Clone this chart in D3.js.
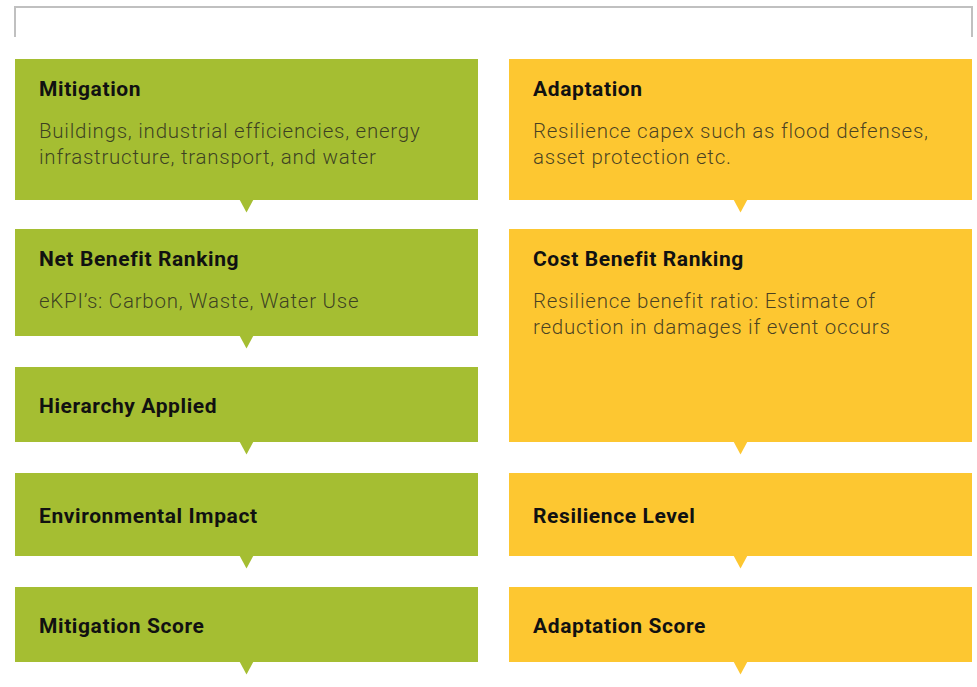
<!DOCTYPE html>
<html>
<head>
<meta charset="utf-8">
<script src="https://cdn.jsdelivr.net/npm/d3@7"></script>
<style>
  html, body { margin: 0; padding: 0; background: #ffffff; }
  svg { display: block; }
</style>
</head>
<body>
<svg id="chart" width="977" height="687"></svg>
<script>
// ---- Data ----
const columns = ["Mitigation", "Adaptation"];
const columnColors = ["#a5be32", "#fdc731"];

const mitigationTitles = ["Mitigation", "Net Benefit Ranking", "Hierarchy Applied", "Environmental Impact", "Mitigation Score"];
const mitigationTexts = [
  ["Buildings, industrial efficiencies, energy", "infrastructure, transport, and water"],
  ["eKPI’s: Carbon, Waste, Water Use"],
  [], [], []
];
const mitigationSpans = [[0, 1], [1, 2], [2, 3], [3, 4], [4, 5]]; // row index spans

const adaptationTitles = ["Adaptation", "Cost Benefit Ranking", "Resilience Level", "Adaptation Score"];
const adaptationTexts = [
  ["Resilience capex such as flood defenses,", "asset protection etc."],
  ["Resilience benefit ratio: Estimate of", "reduction in damages if event occurs"],
  [], []
];
const adaptationSpans = [[0, 1], [1, 3], [3, 4], [4, 5]];

// row boundaries (top / bottom of each row band, in layout units)
const rowTops = [59, 229, 367, 473, 587];
const rowBottoms = [200, 336, 442, 556, 662];

// ---- Layout ----
const svg = d3.select("#chart");

const x = d3.scaleBand().domain(columns).range([15, 972]).paddingInner(0.0628).paddingOuter(0);

// bracket on top
const bx0 = 15, bx1 = 972, by0 = 7, by1 = 37;
svg.append("path")
  .attr("d", `M${bx0},${by1}V${by0}H${bx1}V${by1}`)
  .attr("fill", "none")
  .attr("stroke", "#c0c0c0")
  .attr("stroke-width", 2);

function build(col, titles, texts, spans, color) {
  const nodes = titles.map((t, i) => ({
    title: t,
    lines: texts[i],
    top: rowTops[spans[i][0]],
    bottom: rowBottoms[spans[i][1] - 1]
  }));
  const g = svg.append("g").attr("transform", `translate(${Math.round(x(col))},0)`);
  const bw = Math.round(x.bandwidth());
  const node = g.selectAll("g.node").data(nodes).join("g").attr("class", "node");

  node.append("rect")
    .attr("x", 0)
    .attr("y", d => d.top)
    .attr("width", bw)
    .attr("height", d => d.bottom - d.top)
    .attr("fill", color);

  // arrow pointer below each box
  const aw = 7, ah = 12.5, cx = bw / 2;
  node.append("path")
    .attr("d", d => `M${cx - aw},${d.bottom - 0.5}L${cx + aw},${d.bottom - 0.5}L${cx},${d.bottom + ah}Z`)
    .attr("fill", color);

  const hasBody = d => d.lines.length > 0;
  node.append("text")
    .attr("x", 24)
    .attr("y", d => hasBody(d) ? d.top + 37 : (d.top + d.bottom) / 2 + 8)
    .attr("font-family", "Roboto, 'Noto Sans', sans-serif")
    .attr("font-weight", 700)
    .attr("font-size", 21)
    .attr("letter-spacing", 0.6)
    .attr("fill", "#111")
    .text(d => d.title);

  node.append("text")
    .attr("font-family", "Roboto, 'Noto Sans', sans-serif")
    .attr("font-weight", 300)
    .attr("font-size", 20.5)
    .attr("letter-spacing", 0.75)
    .attr("fill", "#2a2a20")
    .attr("fill-opacity", 0.85)
    .selectAll("tspan")
    .data(d => d.lines.map((l, i) => ({ l, i, top: d.top })))
    .join("tspan")
    .attr("x", 24)
    .attr("y", d => d.top + 79 + d.i * 26)
    .text(d => d.l);
}

build("Mitigation", mitigationTitles, mitigationTexts, mitigationSpans, columnColors[0]);
build("Adaptation", adaptationTitles, adaptationTexts, adaptationSpans, columnColors[1]);
</script>
</body>
</html>
